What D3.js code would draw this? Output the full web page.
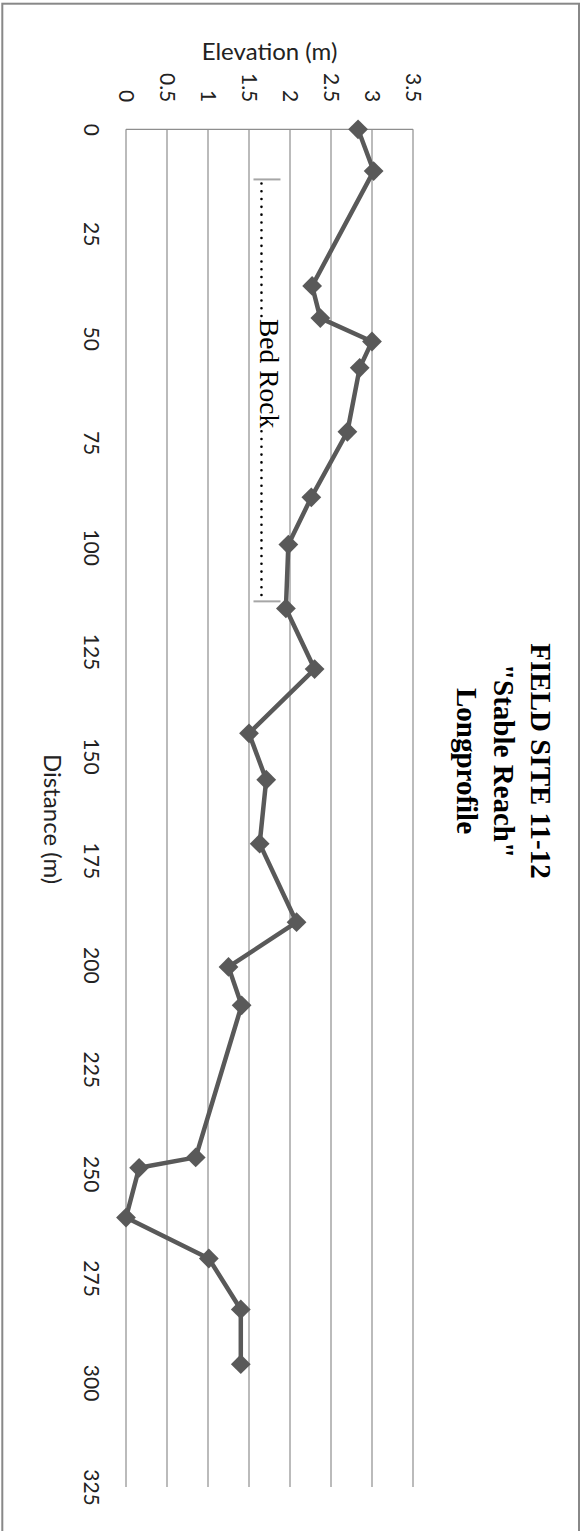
<!DOCTYPE html>
<html>
<head>
<meta charset="utf-8">
<script src="https://cdn.jsdelivr.net/npm/d3@7"></script>
<style>
  html, body { margin: 0; padding: 0; background: #fff; }
  svg { display: block; }
</style>
</head>
<body>
<script>
// Surveyed long profile: distance along the reach (m) and bed elevation (m)
const distances  = [0, 10, 37.5, 45.2, 50.8, 57.1, 72.4, 88.1, 99.4, 114.7, 129.2, 144.6,
                    155.7, 171, 189.8, 200.5, 209.7, 246.1, 248.6, 260.5, 270.3, 282.5, 295.6];
const elevations = [2.83, 3.02, 2.27, 2.37, 3.0, 2.85, 2.70, 2.26, 1.98, 1.95, 2.30, 1.50,
                    1.71, 1.63, 2.08, 1.25, 1.41, 0.85, 0.16, 0.00, 1.01, 1.40, 1.40];
const distanceTicks  = [0, 25, 50, 75, 100, 125, 150, 175, 200, 225, 250, 275, 300, 325];
const elevationTicks = [0, 0.5, 1, 1.5, 2, 2.5, 3, 3.5];
const titleLines = ["FIELD SITE 11-12", "\"Stable Reach\"", "Longprofile"];
const xTitle = "Distance (m)";
const yTitle = "Elevation (m)";
// Bed rock section marked along the profile (distances in m, elevation of the marker line)
const bedRockLabel = "Bed Rock";
const bedRockFrom = 12, bedRockTo = 113, bedRockLabelAt = 45.4, bedRockElevation = 1.64;

const W = 582, H = 1531;
const sans = "Lato, 'Open Sans', sans-serif";
const serif = "'Liberation Serif', 'Times New Roman', serif";
const gridColor = "#8e8e8e";
const lineColor = "#595959";

const svg = d3.select("body").append("svg")
  .attr("width", W).attr("height", H);

// Outer frame
svg.append("rect")
  .attr("x", 2.3).attr("y", 3.7)
  .attr("width", 576.7).attr("height", H + 20)
  .attr("fill", "none").attr("stroke", "#888").attr("stroke-width", 2);

// The whole chart is laid out landscape and turned a quarter turn clockwise
const g = svg.append("g").attr("transform", `translate(${W},0) rotate(90)`);

const x = d3.scaleLinear().domain([0, 325]).range([129.3, 1487]);
const y = d3.scaleLinear().domain([0, 3.5]).range([456, 169]);

// Horizontal gridlines
g.append("g").selectAll("line").data(elevationTicks).join("line")
  .attr("x1", x(0)).attr("x2", x(325))
  .attr("y1", d => y(d)).attr("y2", d => y(d))
  .attr("stroke", gridColor).attr("stroke-width", 1.2);

// Value axis line
g.append("line")
  .attr("x1", x(0)).attr("x2", x(0))
  .attr("y1", y(0)).attr("y2", y(3.5))
  .attr("stroke", gridColor).attr("stroke-width", 1.2);

// Elevation axis labels
const yAxis = g.append("g")
  .attr("transform", `translate(${x(0)},0)`)
  .call(d3.axisLeft(y).tickValues(elevationTicks).tickFormat(d => String(d))
        .tickSize(0).tickPadding(27));
yAxis.select(".domain").remove();
yAxis.selectAll("text")
  .attr("font-family", sans).attr("font-size", 21).attr("fill", "#222");

// Distance axis labels
const xAxis = g.append("g")
  .attr("transform", `translate(0,${y(0)})`)
  .call(d3.axisBottom(x).tickValues(distanceTicks).tickFormat(d => String(d))
        .tickSize(0).tickPadding(27));
xAxis.select(".domain").remove();
xAxis.selectAll("text")
  .attr("font-family", sans).attr("font-size", 21).attr("fill", "#222");

// Axis titles
g.append("text")
  .attr("transform", `translate(60,${(y(0) + y(3.5)) / 2}) rotate(-90)`)
  .attr("text-anchor", "middle")
  .attr("font-family", sans).attr("font-size", 24).attr("fill", "#222")
  .text(yTitle);

g.append("text")
  .attr("x", (x(0) + x(325)) / 2 + 11).attr("y", 538)
  .attr("text-anchor", "middle")
  .attr("font-family", sans).attr("font-size", 24).attr("fill", "#222")
  .text(xTitle);

// Chart title
g.append("text")
  .attr("text-anchor", "middle")
  .attr("font-family", serif).attr("font-size", 29).attr("font-weight", "bold").attr("fill", "#000")
  .selectAll("tspan").data(titleLines).join("tspan")
  .attr("x", 761).attr("y", (d, i) => 51 + i * 37)
  .text(d => d);

// Bed rock marker: end caps, dotted leader and label
const by = y(bedRockElevation);
const bed = g.append("g");
bed.selectAll("line.cap").data([bedRockFrom, bedRockTo]).join("line")
  .attr("class", "cap")
  .attr("x1", d => x(d)).attr("x2", d => x(d))
  .attr("y1", by - 20).attr("y2", by + 7)
  .attr("stroke", "#a6a6a6").attr("stroke-width", 2);
const bedText = bed.append("text")
  .attr("x", x(bedRockLabelAt)).attr("y", by)
  .attr("font-family", serif).attr("font-size", 27.5).attr("fill", "#000")
  .text(bedRockLabel);
const tl = bedText.node().getComputedTextLength();
const dotted = [[x(bedRockFrom) + 4, x(bedRockLabelAt) - 2],
                [x(bedRockLabelAt) + tl + 3, x(bedRockTo) - 3]];
bed.selectAll("line.dots").data(dotted).join("line")
  .attr("class", "dots")
  .attr("x1", d => d[0]).attr("x2", d => d[1])
  .attr("y1", by - 1).attr("y2", by - 1)
  .attr("stroke", "#000").attr("stroke-width", 2.6)
  .attr("stroke-linecap", "round").attr("stroke-dasharray", "0 7.8");

// Profile line with diamond markers
const pts = distances.map((d, i) => [d, elevations[i]]);
g.append("path")
  .datum(pts)
  .attr("fill", "none").attr("stroke", lineColor).attr("stroke-width", 4.5)
  .attr("stroke-linejoin", "round")
  .attr("d", d3.line().x(d => x(d[0])).y(d => y(d[1])));

const side = 14;
g.append("g").selectAll("rect").data(pts).join("rect")
  .attr("x", -side / 2).attr("y", -side / 2)
  .attr("width", side).attr("height", side)
  .attr("transform", d => `translate(${x(d[0])},${y(d[1])}) rotate(45)`)
  .attr("fill", lineColor);
</script>
</body>
</html>
